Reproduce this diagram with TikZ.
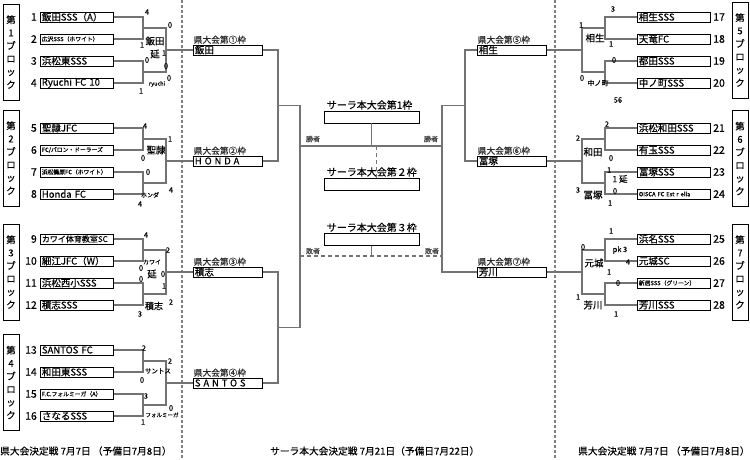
\documentclass[tikz,border=0pt]{standalone}
\usepackage{fontspec}
\setmainfont{Noto Sans CJK JP}[FakeBold=0.35]
\begin{document}
\begin{tikzpicture}[x=1pt,y=-1pt,
  team/.style={draw, line width=0.8pt, minimum width=73pt, minimum height=10pt, inner xsep=1.5pt, inner ysep=0pt, text width=70pt, align=left, anchor=west, font=\fontsize{9.5}{9.5}\selectfont},
  teamsm/.style={team, font=\fontsize{5.8}{6}\selectfont},
  pbox/.style={draw, line width=0.8pt, minimum width=69pt, minimum height=10pt, inner xsep=1.5pt, inner ysep=0pt, text width=66pt, align=left, anchor=west, font=\fontsize{9.5}{9.5}\selectfont},
  plab/.style={anchor=south west, inner sep=0.6pt, font=\fontsize{8.7}{9}\selectfont, text=black!85},
  sbox/.style={draw, line width=0.8pt, minimum width=95pt, minimum height=12pt, inner sep=0pt},
  slab/.style={anchor=south west, inner xsep=3pt, inner ysep=0.8pt, font=\fontsize{10}{10}\selectfont},
  numl/.style={anchor=east, inner sep=0pt, font=\fontsize{10.5}{10.5}\selectfont},
  numr/.style={anchor=west, inner sep=0pt, font=\fontsize{10.5}{10.5}\selectfont},
  blk/.style={draw, line width=0.8pt, minimum width=16pt, minimum height=96pt, inner sep=0pt, align=center, font=\fontsize{9.5}{13}\selectfont},
  br/.style={draw=black!55, line width=1.2pt},
  dline/.style={draw=black!50, line width=1.2pt, dash pattern=on 3pt off 2pt},
  wl/.style={inner sep=0pt, font=\fontsize{7}{7}\selectfont, text=black!75},
  foot/.style={anchor=west, inner sep=0pt, font=\fontsize{9.7}{10}\selectfont}
]
\fill[white] (0,0) rectangle (750,460);
\useasboundingbox (0,0) rectangle (750,460);

% dashed separators
\coordinate (dA1) at (182,0); \coordinate (dA2) at (182,460);
\coordinate (dB1) at (555,0); \coordinate (dB2) at (555,460);
\draw[dline] (dA1) -- (dA2);
\draw[dline] (dB1) -- (dB2);

% block boxes
\node[blk] (b1) at (11,52) {第\\1\\ブ\\ロ\\ッ\\ク};
\node[blk] (b2) at (11,158) {第\\2\\ブ\\ロ\\ッ\\ク};
\node[blk] (b3) at (11,272) {第\\3\\ブ\\ロ\\ッ\\ク};
\node[blk] (b4) at (11,382.5) {第\\4\\ブ\\ロ\\ッ\\ク};
\node[blk] (b5) at (740,50) {第\\5\\ブ\\ロ\\ッ\\ク};
\node[blk] (b6) at (740,158.5) {第\\6\\ブ\\ロ\\ッ\\ク};
\node[blk] (b7) at (740,272) {第\\7\\ブ\\ロ\\ッ\\ク};

% left teams
\node[team]   (t1)  at (40,17)  {飯田SSS（A）};
\node[teamsm] (t2)  at (40,39)  {広沢SSS（ホワイト）};
\node[team]   (t3)  at (40,61)  {浜松東SSS};
\node[team]   (t4)  at (40,83)  {Ryuchi FC 10};
\node[team]   (t5)  at (40,128) {聖隷JFC};
\node[teamsm] (t6)  at (40,150) {FC/バロン・ドーラーズ};
\node[teamsm] (t7)  at (40,172) {浜松篠原FC（ホワイト）};
\node[team]   (t8)  at (40,194) {Honda FC};
\node[team, font=\fontsize{8}{8}\selectfont] (t9) at (40,239) {カワイ体育教室SC};
\node[team]   (t10) at (40,261) {細江JFC（W）};
\node[team]   (t11) at (40,283) {浜松西小SSS};
\node[team]   (t12) at (40,305) {積志SSS};
\node[team]   (t13) at (40,350) {SANTOS FC};
\node[team]   (t14) at (40,372) {和田東SSS};
\node[teamsm] (t15) at (40,394) {F.C.フォルミーガ（A）};
\node[team]   (t16) at (40,416) {さなるSSS};

% left numbers
\foreach \n/\y [count=\i] in {1/17,2/39,3/61,4/83,5/128,6/150,7/172,8/194,9/239,10/261,11/283,12/305,13/350,14/372,15/394,16/416}
  \node[numl] (nl\i) at (37,\y) {\n};

% right teams
\node[team]   (t17) at (637,17)  {相生SSS};
\node[team]   (t18) at (637,39)  {天竜FC};
\node[team]   (t19) at (637,61)  {都田SSS};
\node[team]   (t20) at (637,83)  {中ノ町SSS};
\node[team]   (t21) at (637,128) {浜松和田SSS};
\node[team]   (t22) at (637,150) {有玉SSS};
\node[team]   (t23) at (637,172) {冨塚SSS};
\node[teamsm] (t24) at (637,194) {OISCA FC Est r ella};
\node[team]   (t25) at (637,239) {浜名SSS};
\node[team]   (t26) at (637,261) {元城SC};
\node[teamsm] (t27) at (637,283) {新居SSS（グリーン）};
\node[team]   (t28) at (637,305) {芳川SSS};

\foreach \n/\y [count=\i] in {17/17,18/39,19/61,20/83,21/128,22/150,23/172,24/194,25/239,26/261,27/283,28/305}
  \node[numr] (nr\i) at (713,\y) {\n};

% prefectural boxes
\node[pbox] (p1) at (193,50)  {飯田};
\node[pbox] (p2) at (193,161) {\addfontfeature{LetterSpace=30}HONDA};
\node[pbox] (p3) at (193,272) {積志};
\node[pbox] (p4) at (193,383) {\addfontfeature{LetterSpace=30}SANTOS};
\node[pbox] (p5) at (477,50)  {相生};
\node[pbox] (p6) at (477,161) {冨塚};
\node[pbox] (p7) at (477,272) {芳川};
\node[plab] (pl1) at (p1.north west) {県大会第①枠};
\node[plab] (pl2) at (p2.north west) {県大会第②枠};
\node[plab] (pl3) at (p3.north west) {県大会第③枠};
\node[plab] (pl4) at (p4.north west) {県大会第④枠};
\node[plab] (pl5) at (p5.north west) {県大会第⑤枠};
\node[plab] (pl6) at (p6.north west) {県大会第⑥枠};
\node[plab] (pl7) at (p7.north west) {県大会第⑦枠};

% sara boxes
\node[sbox] (s1) at (371.5,117) {};
\node[sbox] (s2) at (371.5,184) {};
\node[sbox] (s3) at (371.5,239.5) {};
\node[slab] (sl1) at (s1.north west) {サーラ本大会第1枠};
\node[slab] (sl2) at (s2.north west) {サーラ本大会第２枠};
\node[slab] (sl3) at (s3.north west) {サーラ本大会第３枠};

% junction coordinates (left)
\coordinate (q1) at (143,28);  \coordinate (q2) at (143,72);  \coordinate (r1) at (166,50);
\coordinate (q3) at (143,139); \coordinate (q4) at (143,183); \coordinate (r2) at (166,161);
\coordinate (q5) at (143,250); \coordinate (q6) at (143,294); \coordinate (r3) at (166,272);
\coordinate (q7) at (143,361); \coordinate (q8) at (143,405); \coordinate (r4) at (166,383);
% right
\coordinate (q9) at (605,28);   \coordinate (q10) at (605,72);  \coordinate (r5) at (582,50);
\coordinate (q11) at (605,139); \coordinate (q12) at (605,183); \coordinate (r6) at (582,161);
\coordinate (q13) at (605,250); \coordinate (q14) at (605,294); \coordinate (r7) at (582,272);
% centre
\coordinate (c1) at (278,105.5); \coordinate (c2) at (278,327.5);
\coordinate (w) at (300,146); \coordinate (wr) at (442,146);
\coordinate (lL) at (300,256); \coordinate (lR) at (442,256);
\coordinate (c3) at (465,105.5);

% left brackets
\draw[br] (t1.east) -| (q1) |- (t2.east);
\draw[br] (t3.east) -| (q2) |- (t4.east);
\draw[br] (q1) -| (r1) |- (q2);
\draw[br] (r1) -- (p1.west);
\draw[br] (t5.east) -| (q3) |- (t6.east);
\draw[br] (t7.east) -| (q4) |- (t8.east);
\draw[br] (q3) -| (r2) |- (q4);
\draw[br] (r2) -- (p2.west);
\draw[br] (t9.east) -| (q5) |- (t10.east);
\draw[br] (t11.east) -| (q6) |- (t12.east);
\draw[br] (q5) -| (r3) |- (q6);
\draw[br] (r3) -- (p3.west);
\draw[br] (t13.east) -| (q7) |- (t14.east);
\draw[br] (t15.east) -| (q8) |- (t16.east);
\draw[br] (q7) -| (r4) |- (q8);
\draw[br] (r4) -- (p4.west);

% right brackets
\draw[br] (t17.west) -| (q9) |- (t18.west);
\draw[br] (t19.west) -| (q10) |- (t20.west);
\draw[br] (q9) -| (r5) |- (q10);
\draw[br] (r5) -- (p5.east);
\draw[br] (t21.west) -| (q11) |- (t22.west);
\draw[br] (t23.west) -| (q12) |- (t24.west);
\draw[br] (q11) -| (r6) |- (q12);
\draw[br] (r6) -- (p6.east);
\draw[br] (t25.west) -| (q13) |- (t26.west);
\draw[br] (t27.west) -| (q14) |- (t28.west);
\draw[br] (q13) -| (r7) |- (q14);
\draw[br] (r7) -- (p7.east);

% centre brackets
\draw[draw=black!55, line width=1.2pt, dash pattern=on 4pt off 3pt] (lL) -- (lR);
\draw[br] (p1.east) -| (c1) |- (p2.east);
\draw[br] (p3.east) -| (c2) |- (p4.east);
\draw[br] (c1) -| (w) |- (c2);
\draw[br] (w) -- (wr);
\draw[br] (p5.west) -| (c3) |- (p6.west);
\draw[br] (c3) -| (wr) |- (p7.west);
\draw[br] (s1.south) -- (s1.south |- w);
\draw[br] (s3.south) -- (s3.south |- lL);
\draw[draw=black!55, line width=1.2pt, dash pattern=on 4pt off 3pt] ([xshift=5pt]s1.south |- w) -- ([xshift=5pt]s2.north);

\node[wl] (w1) at (313,139) {勝者};
\node[wl] (w2) at (431,139) {勝者};
\node[wl] (l1) at (313,251) {敗者};
\node[wl] (l2) at (432,251) {敗者};

% scores and round labels
\foreach \x/\y/\s/\t [count=\i] in {
  147/12/7.5/4, 142/45/7.5/1, 170/25/7.5/0, 155/41/9.5/飯田, 155/54/9.5/延, 164/53/7.5/1, 166/66/7.5/0, 147/60/7.5/0, 169/78/7.5/0, 157/84/5.5/ryuchi, 141/91/7.5/1,
  145/126/7.5/4, 170/139/7.5/1, 156/150/9.5/聖隷, 143/158/7.5/0, 148/172/7.5/0, 150/195/6/ホンダ, 171/190/7.5/4, 140/204/7.5/4,
  146/235/7.5/4, 168/250/7.5/2, 152/262/6/カワイ, 141/268/7.5/0, 152/274/9.5/延, 163/274/7.5/0, 141/279/7.5/0, 164/286/7.5/1, 154/306/9/積志, 171/302/7.5/2, 140/314/7.5/3,
  144/348/7.5/2, 170/361/7.5/2, 158/371/6.5/サントス, 142/380/7.5/0, 146/396/7.5/3, 171/408/7.5/0, 162/415/5.5/フォルミーガ, 143/422/7.5/1,
  613/9/7.5/3, 581/25/7.5/1, 595/38/9.5/相生, 611/44/7.5/1, 614/60/7.5/0, 582/78/7.5/0, 598/83/7/中ノ町, 618/100/7.5/56,
  607/124/7.5/2, 578/138/7.5/2, 593/152/9.5/和田, 611/158/7.5/0, 609/170/7.5/1, 620/179/8.5/1 延, 578/190/7.5/3, 593/195/9.5/冨塚, 615/191/7.5/0, 610/203/7.5/1,
  611/231/7.5/1, 583/247/7.5/0, 620/250/7.5/pk 3, 594/263/9.5/元城, 628/262/7.5/4, 609/272/7.5/1, 618/283/7.5/0, 578/297/7.5/1, 593/305/9.5/芳川, 616/314/7.5/1}
  \node[inner sep=0pt, font=\fontsize{\s}{\s}\selectfont] (sc\i) at (\x,\y) {\t};

% footers
\node[foot] (f1) at (0,451) {県大会決定戦 7月7日 （予備日7月8日）};
\node[foot] (f2) at (270,451) {サーラ本大会決定戦 7月21日（予備日7月22日）};
\node[foot] (f3) at (578,451) {県大会決定戦 7月7日 （予備日7月8日）};
\end{tikzpicture}
\end{document}
